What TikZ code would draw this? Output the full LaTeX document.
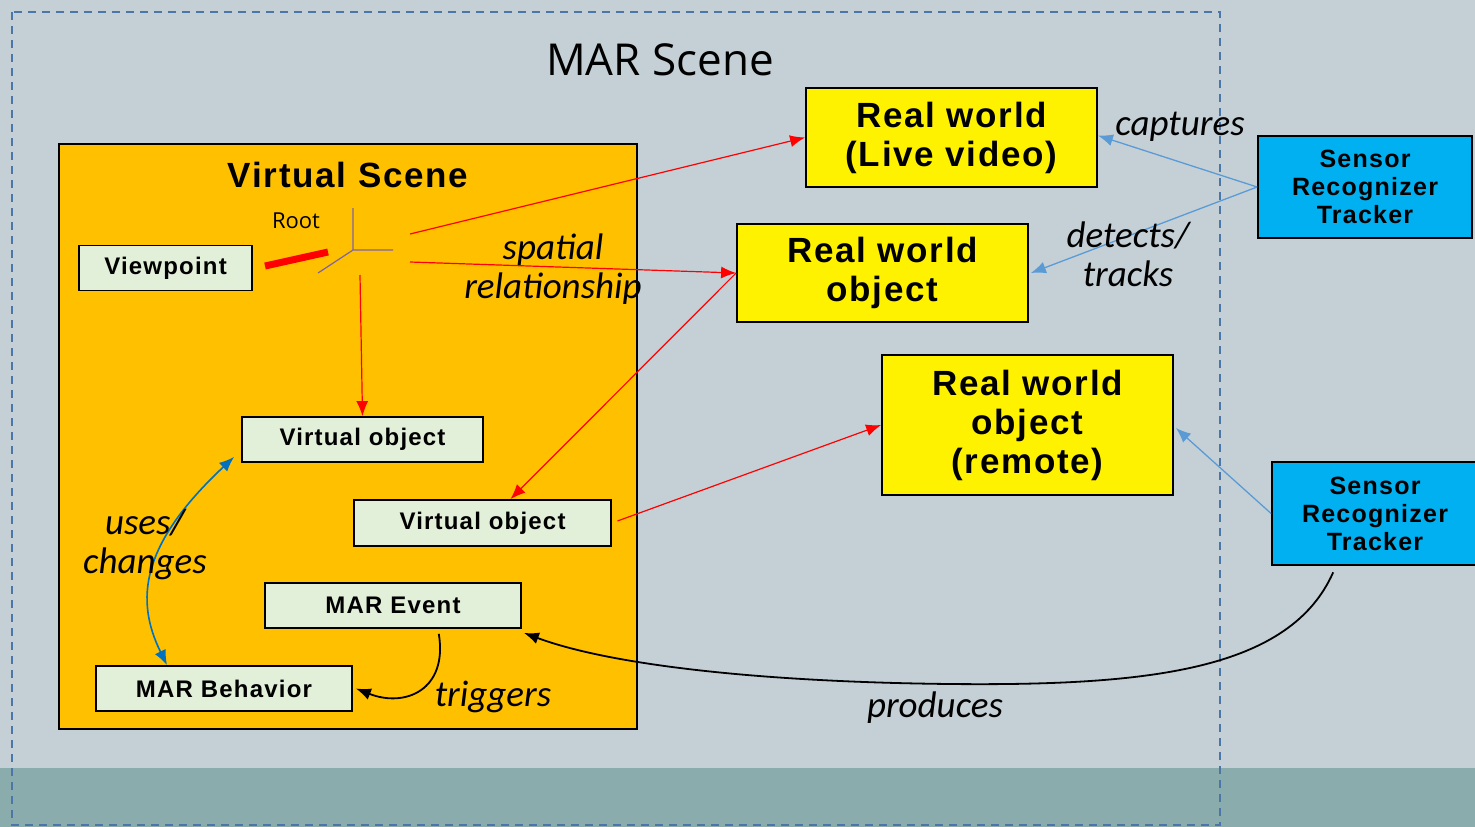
\documentclass[tikz,border=0pt]{standalone}
\usepackage{fontspec}
\setmainfont{Liberation Sans}
\newfontfamily\boxfont[LetterSpace=5]{Liberation Sans}
\newfontfamily\lblfont{Carlito}
\newfontfamily\titlefont{Open Sans}
\usetikzlibrary{arrows.meta,calc}
\definecolor{slide}{HTML}{C5D0D6}
\definecolor{band}{HTML}{8AACAC}
\definecolor{frame}{HTML}{4A76A8}
\definecolor{vorange}{HTML}{FFC000}
\definecolor{boxgreen}{HTML}{E2EFD9}
\definecolor{sensorblue}{HTML}{00B0F0}
\definecolor{linkblue}{HTML}{5B9BD5}
\definecolor{usesblue}{HTML}{0070C0}
\definecolor{axispurple}{HTML}{8064A2}
\tikzset{
>={Latex[length=15pt,width=12pt]},
vbox/.style={ rectangle, draw=black, line width=1.8pt, fill=boxgreen, minimum height=45pt, inner sep=0pt, font=\boxfont\fontsize{24}{28}\selectfont\bfseries},
realbox/.style={ rectangle, draw=black, line width=1.8pt, fill=yellow, minimum width=291pt, inner sep=0pt, align=center, font=\boxfont\fontsize{35}{39}\selectfont\bfseries},
sensorbox/.style={ rectangle, draw=black, line width=1.8pt, fill=sensorblue, minimum height=102pt, inner sep=0pt, align=center, font=\boxfont\fontsize{25}{28}\selectfont\bfseries},
redline/.style={draw=red, line width=1.2pt, ->},
blueline/.style={draw=linkblue, line width=1.3pt, ->},
curveline/.style={draw=black, line width=1.8pt, ->},
lbl/.style={font=\lblfont\itshape\fontsize{37}{39}\selectfont, align=center, inner sep=0pt},
}
\begin{document}
\begin{tikzpicture}[x=1pt, y=-1pt]
\useasboundingbox (0,0) rectangle (1475,827);
\fill[slide] (0,0) rectangle (1475,827);
\fill[band] (0,768) rectangle (1475,827);
\draw[frame, line width=1.5pt, dash pattern=on 8pt off 6pt] (12,12) rectangle (1220,825);
\node[font=\titlefont\fontsize{44}{50}\selectfont] (marscene) at (660,60) {MAR Scene};

% virtual scene
\node[rectangle, draw=black, line width=1.8pt, fill=vorange, minimum width=578pt, minimum height=585pt] (vscene) at (348,436.5) {};
\node[font=\boxfont\fontsize{35}{40}\selectfont\bfseries] (vtitle) at (348,175) {Virtual Scene};

\node[vbox, minimum width=173pt] (vp) at (165.5,268) {Viewpoint};
\node[vbox, minimum width=241pt] (vo1) at (362.5,439.5) {Virtual object};
\node[vbox, minimum width=257pt, minimum height=46pt] (vo2) at (482.5,523) {Virtual object};
\node[vbox, minimum width=256pt] (ev) at (393,605.5) {MAR Event};
\node[vbox, minimum width=256pt] (bh) at (224,688.5) {MAR Behavior};

% root frame
\node[font=\titlefont\fontsize{22}{26}\selectfont] (rootlbl) at (296,221) {Root};
\coordinate (root) at (353,250);
\draw[red, line width=7pt] (265,266) -- (328,252);
\draw[axispurple, line width=1.2pt] (root) -- (353,208) (root) -- (393,250) (root) -- (318,273);
\coordinate (r1) at (410,234);
\coordinate (r2) at (410,262);
\coordinate (r3) at (360,275);

% real world
\node[realbox, minimum height=99pt] (live) at (951.5,137.5) {Real world\\(Live video)};
\node[realbox, minimum height=98pt] (rwo) at (882.5,273) {Real world\\object};
\node[realbox, minimum height=140pt] (remote) at (1027.5,425) {Real world\\object\\(remote)};

\node[sensorbox, minimum width=214pt] (sen1) at (1365,187) {Sensor\\Recognizer\\Tracker};
\node[sensorbox, minimum width=206pt, minimum height=103pt] (sen2) at (1375,513.5) {Sensor\\Recognizer\\Tracker};

% connectors
\draw[redline] (r1) -- (live.west);
\draw[redline] (r2) -- (rwo.west);
\draw[redline] (r3) -- (vo1.north);
\draw[redline] (rwo.west) -- ([xshift=28pt]vo2.north);
\draw[redline, shorten <=6pt] (vo2.east) -- (remote.west);

\draw[blueline] (sen1.west) -- ([yshift=2pt]live.east);
\draw[blueline] (sen1.west) -- ([xshift=2pt]rwo.east);
\draw[blueline] (sen2.west) -- ([xshift=2pt,yshift=-3pt]remote.east);

\draw[curveline, shorten <=7pt] ([xshift=-39pt]sen2.south) .. controls (1290,670) and (1150,686) .. (950,684) .. controls (760,682) and (610,665) .. ([xshift=2pt,yshift=-4pt]ev.south east);
\draw[curveline, shorten <=5pt] ([xshift=45pt]ev.south) .. controls (448,690) and (405,708) .. ([xshift=3pt]bh.east);
\draw[draw=usesblue, line width=1.6pt, <->] ([xshift=-7pt,yshift=6pt]vo1.south west) .. controls (140,545) and (135,600) .. ([xshift=-57pt]bh.north);

% labels
\node[lbl] (spatial) at (553,269) {spatial\\relationship};
\node[lbl] (captures) at (1180,127) {captures};
\node[lbl] (detects) at (1128,254) {detects/\\tracks};
\node[lbl] (uses) at (145,545) {uses/\\changes};
\node[lbl] (triggers) at (493,697) {triggers};
\node[lbl] (produces) at (935,708) {produces};
\end{tikzpicture}
\end{document}
